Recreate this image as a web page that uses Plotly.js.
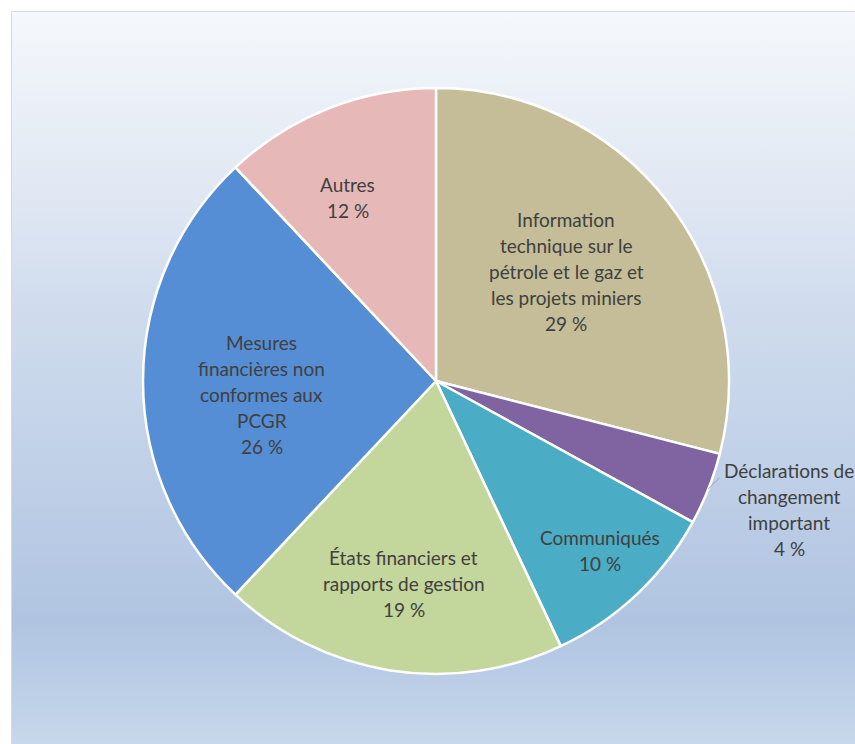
<!DOCTYPE html>
<html><head><meta charset="utf-8">
<script src="https://cdn.plot.ly/plotly-3.0.1.min.js"></script>
<style>
html,body{margin:0;padding:0;width:855px;height:744px;overflow:hidden;background:#ffffff;}
#frame{position:absolute;left:11px;top:11px;width:870px;height:735px;border:1px solid #d9d9d9;
background:linear-gradient(to bottom,#f5f8fc 0%,#e1e8f3 24%,#d1ddee 39%,#b0c4e1 83%,#c7d8eb 100%);}
#chart{position:absolute;left:0;top:0;width:855px;height:744px;}
</style>
</head><body>
<div id="frame"></div>
<div id="chart"></div>
<script>
// ---- data ----
const categories = [
  'Information technique sur le pétrole et le gaz et les projets miniers',
  'Déclarations de changement important',
  'Communiqués',
  'États financiers et rapports de gestion',
  'Mesures financières non conformes aux PCGR',
  'Autres'
];
const shares = [29, 4, 10, 19, 26, 12];
const labelLines = [
  ['Information', 'technique sur le', 'pétrole et le gaz et', 'les projets miniers'],
  ['Déclarations de', 'changement', 'important'],
  ['Communiqués'],
  ['États financiers et', 'rapports de gestion'],
  ['Mesures', 'financières non', 'conformes aux', 'PCGR'],
  ['Autres']
];
const colors = ['#c4bd97', '#8064a2', '#4bacc6', '#c3d69b', '#558ed5', '#e6b9b8'];

// ---- layout config ----
const W = 855, H = 744;
const CX = 436, CY = 381, R = 293;
const labelRadius = [0.58, null, 0.804, 0.7, 0.596, 0.695];
const labelAngleNudge = [-0.04, 0, -0.016, 0, -0.08, -0.072];
const outsideIdx = 1;
const lineGap = 26;
const fontSpec = {family: 'Lato, Carlito, Calibri, sans-serif', size: 19, color: '#404040'};

const total = shares.reduce((a, b) => a + b, 0);
const annotations = [];
const shapes = [];
let cum = 0;
shares.forEach((v, i) => {
  const mid = (cum + v / 2) / total * 2 * Math.PI;
  cum += v;
  const lines = labelLines[i].concat([v + ' %']);
  let px, py;
  if (i === outsideIdx) {
    const ex = CX + R * Math.sin(mid), ey = CY - R * Math.cos(mid);
    shapes.push({type: 'line', xref: 'paper', yref: 'paper',
      x0: ex / W, y0: 1 - ey / H, x1: (ex + 11) / W, y1: 1 - (ey - 11) / H,
      line: {color: '#a6a6a6', width: 1}});
    px = ex + 81; py = ey + 21;
  } else {
    const f = labelRadius[i];
    const a = mid + labelAngleNudge[i];
    px = CX + f * R * Math.sin(a);
    py = CY - f * R * Math.cos(a);
  }
  const n = lines.length;
  lines.forEach((t, k) => {
    annotations.push({
      xref: 'paper', yref: 'paper', x: px / W, y: 1 - py / H,
      xanchor: 'center', yanchor: 'middle', showarrow: false,
      yshift: -(k - (n - 1) / 2) * lineGap,
      text: t, font: fontSpec
    });
  });
});

const trace = {
  type: 'pie',
  labels: categories,
  values: shares,
  sort: false,
  direction: 'clockwise',
  rotation: 0,
  textinfo: 'none',
  hoverinfo: 'label+percent',
  marker: {colors: colors, line: {color: '#ffffff', width: 2.5}},
  domain: {x: [(CX - R) / W, (CX + R) / W], y: [1 - (CY + R) / H, 1 - (CY - R) / H]}
};

const layout = {
  width: W, height: H,
  margin: {l: 0, r: 0, t: 0, b: 0},
  paper_bgcolor: 'rgba(0,0,0,0)',
  plot_bgcolor: 'rgba(0,0,0,0)',
  showlegend: false,
  annotations: annotations,
  shapes: shapes
};

Plotly.newPlot('chart', [trace], layout, {displayModeBar: false, staticPlot: true});
</script>
</body></html>
